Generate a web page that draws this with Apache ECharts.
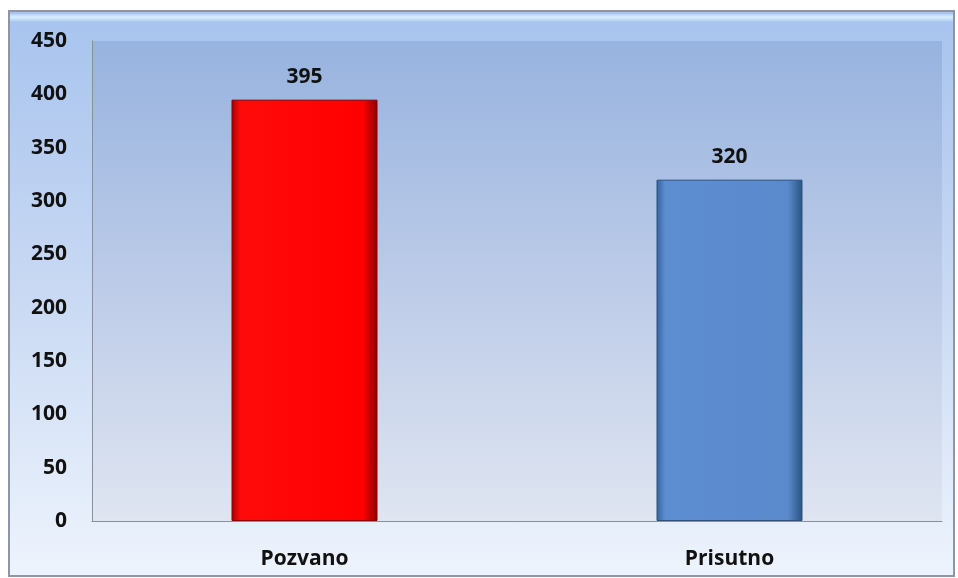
<!DOCTYPE html>
<html>
<head>
<meta charset="utf-8">
<script src="https://cdn.jsdelivr.net/npm/echarts@6/dist/echarts.min.js"></script>
<style>
  html, body { margin: 0; padding: 0; background: #fff; }
  #chart { width: 958px; height: 578px; }
</style>
</head>
<body>
<div id="chart"></div>
<script>
    var categories = ['Pozvano', 'Prisutno'];
    var values = [395, 320];
    var barColors = [
        ['#a30000', '#ff0a0a', '#ff0000', '#8a0000'],
        ['#34629e', '#5e8ed2', '#5a89cc', '#2b527f']
    ];

    var myChart = echarts.init(document.getElementById('chart'));

    function barGradient(c) {
        return new echarts.graphic.LinearGradient(0, 0, 1, 0, [
            {offset: 0, color: c[0]},
            {offset: 0.06, color: c[1]},
            {offset: 0.9, color: c[2]},
            {offset: 1, color: c[3]}
        ]);
    }

    var option = {
        animation: false,
        textStyle: {fontFamily: 'Open Sans'},
        graphic: [
            {
                type: 'rect',
                z: -10,
                shape: {x: 9, y: 11, width: 945, height: 565},
                style: {
                    fill: new echarts.graphic.LinearGradient(0, 0, 0, 1, [
                        {offset: 0, color: '#a7c3ee'},
                        {offset: 0.5, color: '#c9d9f3'},
                        {offset: 1, color: '#eef4fd'}
                    ]),
                    stroke: '#8c96a6',
                    lineWidth: 2
                }
            },
            {
                // light bevel along the top edge of the frame
                type: 'rect',
                z: -9,
                shape: {x: 10, y: 14, width: 943, height: 8},
                style: {
                    fill: new echarts.graphic.LinearGradient(0, 0, 0, 1, [
                        {offset: 0, color: '#b8d2f4'},
                        {offset: 0.4, color: '#d9efff'},
                        {offset: 1, color: '#a9c5ee'}
                    ])
                }
            },
            {
                type: 'rect',
                z: -9,
                shape: {x: 92, y: 41, width: 850, height: 480},
                style: {
                    fill: new echarts.graphic.LinearGradient(0, 0, 0, 1, [
                        {offset: 0, color: '#97b3df'},
                        {offset: 0.5, color: '#bccbe8'},
                        {offset: 1, color: '#dfe5f1'}
                    ])
                }
            }
        ],
        grid: {
            left: 92,
            right: 16,
            top: 41,
            bottom: 57
        },
        xAxis: {
            type: 'category',
            data: categories,
            axisTick: {show: false},
            axisLine: {lineStyle: {color: '#8a8f99', width: 1}},
            axisLabel: {
                color: '#111',
                fontSize: 21,
                fontWeight: 'bold',
                margin: 28
            }
        },
        yAxis: {
            type: 'value',
            min: 0,
            max: 450,
            interval: 50,
            splitLine: {show: false},
            axisTick: {show: false},
            axisLine: {show: true, lineStyle: {color: '#8a8f99', width: 1}},
            axisLabel: {
                color: '#111',
                fontSize: 21,
                fontWeight: 'bold',
                margin: 25
            }
        },
        series: [
            {
                type: 'bar',
                barWidth: 146,
                data: values.map(function (v, i) {
                    return {
                        value: v,
                        itemStyle: {
                            color: barGradient(barColors[i]),
                            borderColor: barColors[i][3],
                            borderWidth: 1
                        }
                    };
                }),
                label: {
                    show: true,
                    position: 'top',
                    distance: 12,
                    color: '#111',
                    fontSize: 21,
                    fontWeight: 'bold'
                }
            }
        ]
    };
    myChart.setOption(option);
</script>
</body>
</html>
